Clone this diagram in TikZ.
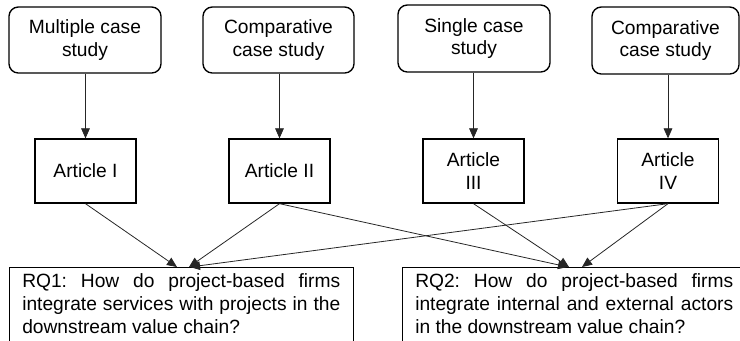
\documentclass[tikz,border=0pt]{standalone}
\usepackage{fontspec}
\setmainfont{Liberation Sans}
\usetikzlibrary{arrows.meta}
\frenchspacing
\begin{document}
\begin{tikzpicture}[x=0.75pt,y=-0.75pt,
  every node/.style={font=\fontsize{14.4}{17}\selectfont},
  method/.style={draw, line width=1pt, rounded corners=7pt, align=center,
    inner sep=0pt, minimum width=114pt, minimum height=49.5pt},
  article/.style={draw, line width=1pt, align=center, inner sep=0pt,
    minimum width=75.75pt, minimum height=48pt},
  rqframe/.style={draw, line width=1pt, inner sep=0pt, anchor=north west,
    minimum height=75pt},
  rqtext/.style={anchor=north west, inner xsep=9.75pt, inner ysep=5pt,
    text width=238.5pt, align=justify,
    execute at begin node={\tolerance=10000\hbadness=10000}},
  link/.style={draw=black!85, line width=0.6pt,
    -{Triangle[length=7.5pt,width=6.5pt]}}
]
\useasboundingbox (0,0) rectangle (740,340);

% research methods
\node[method] (m1) at (85,40) {Multiple case\\study};
\node[method, minimum width=113.25pt] (m2) at (278.5,40) {Comparative\\case study};
\node[method, minimum height=50.25pt] (m3) at (474,38.5) {Single case\\study};
\node[method, minimum width=110.25pt, minimum height=50.25pt] (m4) at (665.5,40.5) {Comparative\\case study};

% articles
\node[article] (a1) at (85.5,171) {Article I};
\node[article] (a2) at (279.5,171) {Article II};
\node[article] (a3) at (473.5,171) {Article\\III};
\node[article] (a4) at (668,171) {Article\\IV};

% research questions
\node[rqframe, minimum width=258pt] (rq1) at (9,267) {};
\node[rqtext] (rq1t) at (rq1.north west) {RQ1: How do project-based firms\linebreak integrate services with projects in the\linebreak downstream value chain?};
\node[rqframe, minimum width=270pt] (rq2) at (402,267) {};
\node[rqtext] (rq2t) at (rq2.north west) {RQ2: How do project-based firms\linebreak integrate internal and external actors\linebreak in the downstream value chain?};

% entry points on the research question boxes
\coordinate (q1a) at (177,267);
\coordinate (q1b) at (189,267);
\coordinate (q1c) at (190,267);
\coordinate (q2a) at (568,267);
\coordinate (q2b) at (569,267);
\coordinate (q2c) at (582,267);

% method -> article
\draw[link] (m1.south -| a1.north) -- (a1.north);
\draw[link] (m2.south -| a2.north) -- (a2.north);
\draw[link] (m3.south -| a3.north) -- (a3.north);
\draw[link] (m4.south -| a4.north) -- (a4.north);

% article -> research question
\draw[link] (a1.south) -- (q1a);
\draw[link] (a2.south) -- (q1b);
\draw[link] (a4.south) -- (q1c);
\draw[link] (a2.south) -- (q2a);
\draw[link] (a3.south) -- (q2b);
\draw[link] (a4.south) -- (q2c);
\end{tikzpicture}
\end{document}
